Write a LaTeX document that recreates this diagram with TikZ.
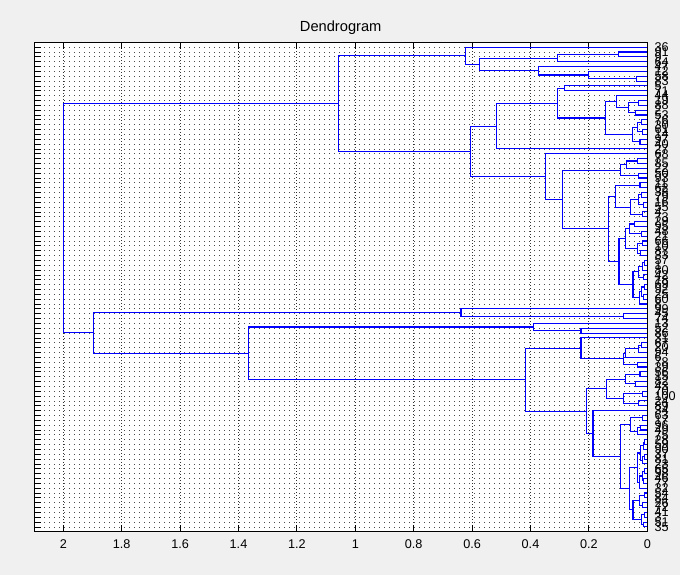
\documentclass[tikz,border=0pt]{standalone}
\usepackage{fontspec}
\setmainfont{Liberation Sans}
\usetikzlibrary{calc}
\definecolor{figbg}{HTML}{F0F0F0}
\definecolor{treeblue}{RGB}{0,0,255}

% join two clusters at a given height
\newcommand{\mergepair}[4]{%
	\coordinate (#1) at ($(#2)!0.5!(#3)$);
	\coordinate (hgt) at (#4,0);
	\coordinate (#1) at (hgt |- #1);
	\draw[link] (#2) -| (#1) |- (#3);
}

\begin{document}
\begin{tikzpicture}[x=-219pt,y=-3.6345pt,
	link/.style={treeblue, line width=0.8pt},
	hgrid/.style={black!70, line width=0.6pt, dash pattern=on 0.75pt off 3pt},
	vgrid/.style={black!80, line width=0.6pt, dash pattern=on 0.75pt off 1.5pt},
	ticklab/.style={font=\fontsize{9.5}{9.5}\selectfont, anchor=base, inner sep=0pt},
	leaflab/.style={font=\fontsize{9.5}{9.5}\selectfont, anchor=west, inner sep=0pt}]
	% figure and axes
	\fill[figbg] (2.2168,-8.729) rectangle (-0.112,109.93);
	\useasboundingbox (2.2168,-8.729) rectangle (-0.112,109.93);
	\fill[white] (2.1,0) rectangle (0,101);
	\foreach \n in {1,...,100}{
		\draw[hgrid] (2.1,\n) -- (0,\n);
		\draw[line width=0.6pt] (2.1,\n) -- (2.075,\n);
	}
	\foreach \v in {0,0.2,0.4,0.6,0.8,1,1.2,1.4,1.6,1.8,2}{
		\draw[vgrid] (\v,0) -- (\v,101);
		\draw[line width=0.6pt] (\v,101) -- (\v,99.6);
		\draw[line width=0.6pt] (\v,0) -- (\v,1.4);
		\path (\v,104.5) node[ticklab] (tick\v) {\v};
	}
	\path (1.05,-2.13) node[anchor=base, inner sep=0pt, font=\fontsize{11}{11}\selectfont] (title) {Dendrogram};
	% leaves and their labels
	\foreach \lab [count=\n] in {36,91,9,64,47,12,58,83,5,71,44,19,88,2,53,76,30,61,14,97,
		40,27,68,7,85,22,50,93,11,62,38,79,16,55,4,73,29,95,48,21,
		66,10,87,33,57,1,80,42,18,69,92,25,60,8,99,45,74,13,52,86,
		31,67,20,94,6,78,39,56,15,82,43,70,100,24,89,34,63,17,96,49,
		75,28,59,90,37,81,23,65,98,46,77,32,54,84,26,72,41,3,51,35}{
		\coordinate (L\n) at (0,\n);
		\path (-0.024,\n) node[leaflab] (t\n) {\lab};
	}
	% upper group, leaves 1-8
	\mergepair{a23}{L2}{L3}{0.100}
	\mergepair{a234}{a23}{L4}{0.309}
	\mergepair{a78}{L7}{L8}{0.038}
	\mergepair{a678}{L6}{a78}{0.200}
	\mergepair{a5678}{L5}{a678}{0.371}
	\mergepair{a2to8}{a234}{a5678}{0.576}
	\mergepair{cA}{L1}{a2to8}{0.624}
	% leaves 9-22
	\mergepair{b910}{L9}{L10}{0.282}
	\mergepair{b1213}{L12}{L13}{0.030}
	\mergepair{b1415}{L14}{L15}{0.040}
	\mergepair{b12to15}{b1213}{b1415}{0.065}
	\mergepair{cP}{L11}{b12to15}{0.105}
	\mergepair{b1617}{L16}{L17}{0.020}
	\mergepair{b1819}{L18}{L19}{0.015}
	\mergepair{b2021}{L20}{L21}{0.025}
	\mergepair{b16to19}{b1617}{b1819}{0.035}
	\mergepair{cQ}{b16to19}{b2021}{0.050}
	\mergepair{cB1ab}{cP}{cQ}{0.142}
	\mergepair{cB1a}{b910}{cB1ab}{0.309}
	\mergepair{cB1}{cB1a}{L22}{0.515}
	% leaves 23-54
	\mergepair{c2425}{L24}{L25}{0.035}
	\mergepair{c2426}{c2425}{L26}{0.070}
	\mergepair{c2728}{L27}{L28}{0.030}
	\mergepair{cBtop}{c2426}{c2728}{0.093}
	\mergepair{c2930}{L29}{L30}{0.025}
	\mergepair{c3132}{L31}{L32}{0.020}
	\mergepair{c3334}{L33}{L34}{0.012}
	\mergepair{c3536}{L35}{L36}{0.018}
	\mergepair{c3134}{c3132}{c3334}{0.030}
	\mergepair{c3136}{c3134}{c3536}{0.056}
	\mergepair{cBbt}{c2930}{c3136}{0.108}
	\mergepair{d3738}{L37}{L38}{0.045}
	\mergepair{d3940}{L39}{L40}{0.020}
	\mergepair{d3740}{d3738}{d3940}{0.060}
	\mergepair{d4142}{L41}{L42}{0.015}
	\mergepair{d4344}{L43}{L44}{0.022}
	\mergepair{d4144}{d4142}{d4344}{0.035}
	\mergepair{cS1}{d3740}{d4144}{0.074}
	\mergepair{d4546}{L45}{L46}{0.010}
	\mergepair{d4547}{d4546}{L47}{0.018}
	\mergepair{d4849}{L48}{L49}{0.012}
	\mergepair{d4549}{d4547}{d4849}{0.030}
	\mergepair{d5051}{L50}{L51}{0.008}
	\mergepair{d5253}{L52}{L53}{0.014}
	\mergepair{d5053}{d5051}{d5253}{0.020}
	\mergepair{d5054}{d5053}{L54}{0.027}
	\mergepair{cS2}{d4549}{d5054}{0.049}
	\mergepair{cBbb}{cS1}{cS2}{0.097}
	\mergepair{cBb}{cBbt}{cBbb}{0.134}
	\mergepair{cB2b}{cBtop}{cBb}{0.289}
	\mergepair{cB2}{L23}{cB2b}{0.350}
	\mergepair{cB}{cB1}{cB2}{0.605}
	\mergepair{cU}{cA}{cB}{1.059}
	% lower group, leaves 55-60
	\mergepair{e5657}{L56}{L57}{0.083}
	\mergepair{cC}{L55}{e5657}{0.638}
	\mergepair{f5960}{L59}{L60}{0.227}
	\mergepair{cD1}{L58}{f5960}{0.391}
	% leaves 61-67
	\mergepair{g6263}{L62}{L63}{0.020}
	\mergepair{g6264}{g6263}{L64}{0.030}
	\mergepair{g6265}{g6264}{L65}{0.074}
	\mergepair{g6667}{L66}{L67}{0.032}
	\mergepair{cD2a2}{g6265}{g6667}{0.083}
	\mergepair{cD2a}{L61}{cD2a2}{0.227}
	% leaves 68-100
	\mergepair{h6869}{L68}{L69}{0.025}
	\mergepair{h7071}{L70}{L71}{0.040}
	\mergepair{h6871}{h6869}{h7071}{0.074}
	\mergepair{h7273}{L72}{L73}{0.015}
	\mergepair{h7475}{L74}{L75}{0.030}
	\mergepair{h7275}{h7273}{h7475}{0.080}
	\mergepair{cD2bt}{h6871}{h7275}{0.139}
	\mergepair{i7778}{L77}{L78}{0.018}
	\mergepair{i7980}{L79}{L80}{0.022}
	\mergepair{i7981}{i7980}{L81}{0.035}
	\mergepair{cG1}{i7778}{i7981}{0.057}
	\mergepair{j8283}{L82}{L83}{0.008}
	\mergepair{j8284}{j8283}{L84}{0.014}
	\mergepair{j8586}{L85}{L86}{0.010}
	\mergepair{j8587}{j8586}{L87}{0.016}
	\mergepair{j8287}{j8284}{j8587}{0.022}
	\mergepair{j8889}{L88}{L89}{0.009}
	\mergepair{j9091}{L90}{L91}{0.012}
	\mergepair{j8891}{j8889}{j9091}{0.018}
	\mergepair{j8892}{j8891}{L92}{0.026}
	\mergepair{cG2a}{j8287}{j8892}{0.033}
	\mergepair{k9394}{L93}{L94}{0.011}
	\mergepair{k9596}{L95}{L96}{0.015}
	\mergepair{k9396}{k9394}{k9596}{0.028}
	\mergepair{k9798}{L97}{L98}{0.010}
	\mergepair{k99100}{L99}{L100}{0.013}
	\mergepair{k97100}{k9798}{k99100}{0.021}
	\mergepair{cG2b}{k9396}{k97100}{0.049}
	\mergepair{cG2}{cG2a}{cG2b}{0.062}
	\mergepair{cG}{cG1}{cG2}{0.093}
	\mergepair{cD2bb}{L76}{cG}{0.186}
	\mergepair{cD2b}{cD2bt}{cD2bb}{0.207}
	\mergepair{cD2}{cD2a}{cD2b}{0.418}
	\mergepair{cD}{cD1}{cD2}{1.366}
	\mergepair{cLo}{cC}{cD}{1.897}
	\mergepair{root}{cU}{cLo}{2.000}
	% axes box
	\draw[line width=0.75pt] (2.1,0) rectangle (0,101);
\end{tikzpicture}
\end{document}
